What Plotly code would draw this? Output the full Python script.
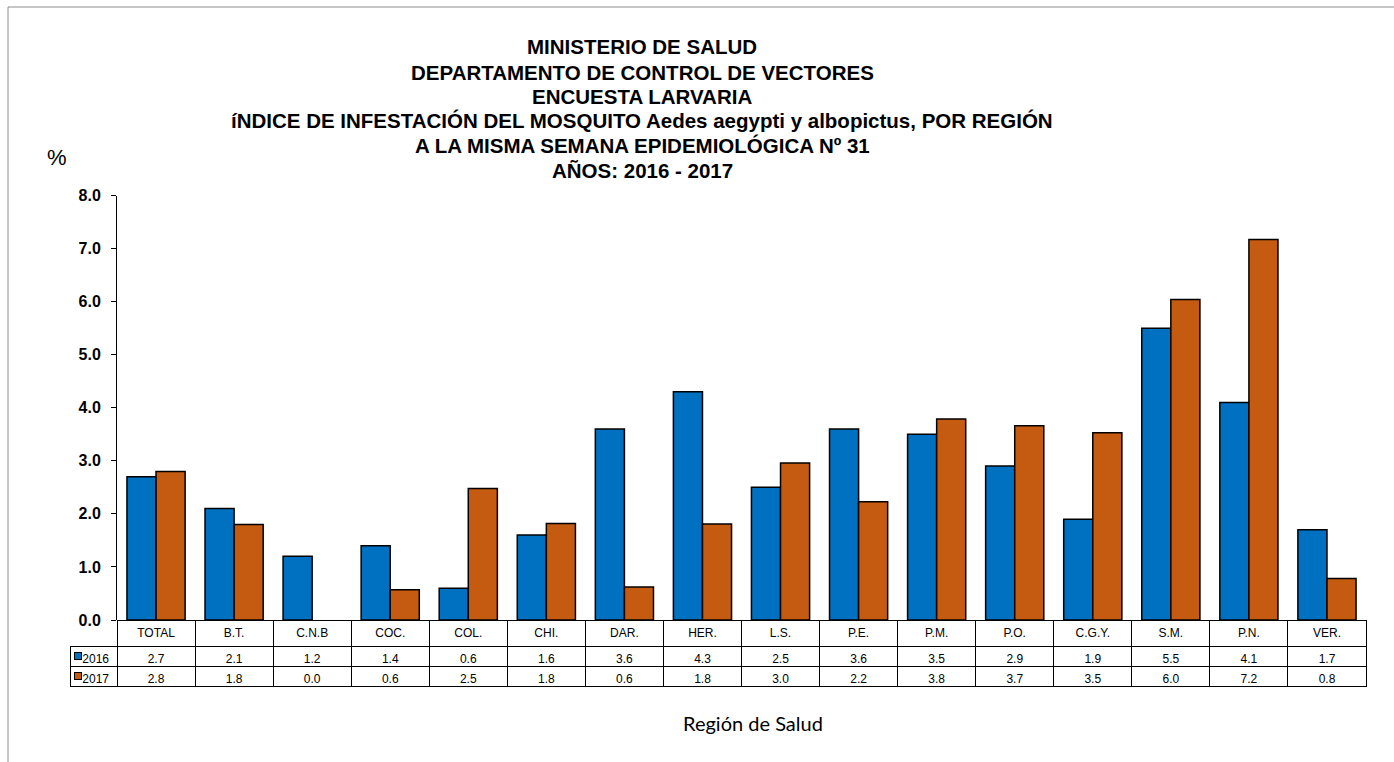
import plotly.graph_objects as go

W, H = 1394, 762

categories = ["TOTAL", "B.T.", "C.N.B", "COC.", "COL.", "CHI.", "DAR.", "HER.",
              "L.S.", "P.E.", "P.M.", "P.O.", "C.G.Y.", "S.M.", "P.N.", "VER."]
values_2016 = [2.70, 2.10, 1.20, 1.40, 0.60, 1.60, 3.60, 4.30,
               2.50, 3.60, 3.50, 2.90, 1.90, 5.50, 4.10, 1.70]
values_2017 = [2.80, 1.80, 0.00, 0.57, 2.48, 1.82, 0.62, 1.81,
               2.96, 2.23, 3.79, 3.66, 3.53, 6.04, 7.17, 0.78]
series_names = ["2016", "2017"]
y_ticks = [0, 1, 2, 3, 4, 5, 6, 7, 8]
title_lines = [
    "MINISTERIO DE SALUD",
    "DEPARTAMENTO DE CONTROL DE VECTORES",
    "ENCUESTA LARVARIA",
    "íNDICE DE INFESTACIÓN DEL MOSQUITO Aedes aegypti y albopictus, POR REGIÓN",
    "A LA MISMA SEMANA EPIDEMIOLÓGICA Nº 31",
    "AÑOS: 2016 - 2017",
]

BLUE = "#0070C0"
ORANGE = "#C55A11"
FONT = "Liberation Sans, Arial, sans-serif"
CLEAR = "rgba(0,0,0,0)"

def px_x(x):
    return x / W

def px_y(y):
    return 1 - y / H

plot_left, plot_right = 117, 1366
plot_top, plot_bottom = 195.5, 620
row_h_header, row_h = 26, 20

def bar_line_widths(vals):
    return [0 if v == 0 else 1.5 for v in vals]

fig = go.Figure()
fig.add_trace(go.Bar(x=categories, y=values_2016, name=series_names[0],
                     marker=dict(color=BLUE, line=dict(color="black",
                                 width=bar_line_widths(values_2016)))))
fig.add_trace(go.Bar(x=categories, y=values_2017, name=series_names[1],
                     marker=dict(color=ORANGE, line=dict(color="black",
                                 width=bar_line_widths(values_2017)))))

n = len(categories)
cat_w = (plot_right - plot_left) / n
leg_left = 70
leg_w = plot_left - leg_left

header_vals = [""] + categories
cell_vals = [series_names[:]]
for a, b in zip(values_2016, values_2017):
    cell_vals.append([f"{a:.1f}", f"{b:.1f}"])

fig.add_trace(go.Table(
    domain=dict(x=[px_x(leg_left), px_x(plot_right)], y=[px_y(740), px_y(plot_bottom)]),
    columnwidth=[leg_w] + [cat_w] * n,
    header=dict(values=header_vals, height=row_h_header, align="center",
                fill=dict(color=[CLEAR] + ["white"] * n),
                line=dict(color=[CLEAR] + ["black"] * n, width=1),
                font=dict(family=FONT, size=12, color="black")),
    cells=dict(values=cell_vals, height=row_h, align=["right"] + ["center"] * n,
               fill=dict(color="white"),
               line=dict(color="black", width=1),
               font=dict(family=FONT, size=12, color="black")),
))

annotations = []
title_y = [47, 72, 96.5, 121, 145.5, 170]
for txt, yy in zip(title_lines, title_y):
    annotations.append(dict(text=f"<b>{txt}</b>", x=px_x(642), y=px_y(yy),
                            xref="paper", yref="paper", showarrow=False,
                            xanchor="center", yanchor="middle",
                            font=dict(family=FONT, size=20.5, color="black")))
annotations.append(dict(text="%", x=px_x(57), y=px_y(157), xref="paper", yref="paper",
                        showarrow=False, xanchor="center", yanchor="middle",
                        font=dict(family=FONT, size=22, color="black")))
annotations.append(dict(text="Región de Salud", x=px_x(753), y=px_y(723),
                        xref="paper", yref="paper", showarrow=False,
                        xanchor="center", yanchor="middle",
                        font=dict(family="Lato, Open Sans, sans-serif", size=20, color="black")))
# legend keys in the data table
for i, col in enumerate([BLUE, ORANGE]):
    yc = plot_bottom + row_h_header + row_h * i + row_h / 2
    annotations.append(dict(text="", x=px_x(77.5), y=px_y(yc), xref="paper", yref="paper",
                            showarrow=False, xanchor="center", yanchor="middle",
                            width=6, height=6, bgcolor=col, bordercolor="black",
                            borderwidth=1, borderpad=0))

shapes = [
    dict(type="line", xref="paper", yref="paper", x0=px_x(8), x1=px_x(8),
         y0=px_y(7), y1=0, line=dict(color="#8c8c8c", width=1)),
    dict(type="line", xref="paper", yref="paper", x0=px_x(8), x1=1,
         y0=px_y(7), y1=px_y(7), line=dict(color="#8c8c8c", width=1)),
]

fig.update_layout(
    template="none",
    width=W, height=H,
    margin=dict(l=0, r=0, t=0, b=0, pad=0, autoexpand=False),
    paper_bgcolor="white", plot_bgcolor="white",
    barmode="group", bargap=0.255, bargroupgap=0,
    showlegend=False,
    annotations=annotations,
    shapes=shapes,
    xaxis=dict(domain=[px_x(plot_left), px_x(plot_right)], range=[-0.5, n - 0.5],
               showticklabels=False, ticks="", showline=False, showgrid=False,
               zeroline=False, automargin=False),
    yaxis=dict(domain=[px_y(plot_bottom), px_y(plot_top)], range=[0, 8],
               tickvals=y_ticks, tickformat=".1f", ticks="outside", ticklen=5,
               tickcolor="black", showline=True, linecolor="black", linewidth=1,
               showgrid=False, zeroline=False, ticklabelstandoff=7, automargin=False,
               tickfont=dict(family=FONT, size=16, color="black", weight="bold")),
)

fig.write_html("out.html", config={"displayModeBar": False},
               post_script="document.body.style.margin='0';document.body.style.overflow='hidden';")
